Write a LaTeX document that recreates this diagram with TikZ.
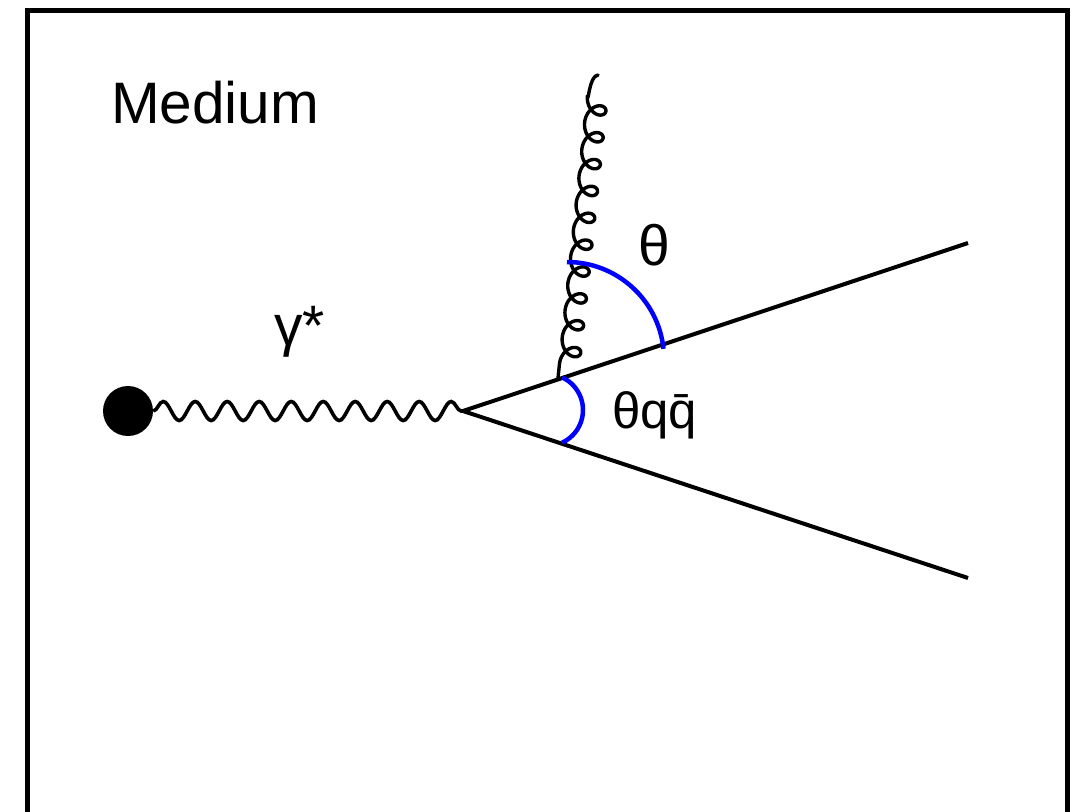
\documentclass[tikz,border=0pt]{standalone}
\usepackage{fontspec}
\setmainfont{Liberation Sans}
\usetikzlibrary{decorations.pathmorphing}
\tikzset{
  frameline/.style={line width=5pt, black},
  quark/.style={line width=4pt, black},
  photon/.style={line width=3.6pt, black, decorate, decoration={snake, segment length=32pt, amplitude=9.5pt}},
  gluonline/.style={line width=3.4pt, black, line join=round, line cap=round},
  anglearc/.style={line width=4.5pt, blue},
  lbl/.style={inner sep=0pt, anchor=base west, font=\fontsize{57}{60}\selectfont},
}
\begin{document}
\begin{tikzpicture}[x=1pt, y=-1pt]
\useasboundingbox (0,0) rectangle (1075,811);
% frame
\coordinate (fbl) at (27,815);
\coordinate (ftl) at (27,10.5);
\coordinate (ftr) at (1067,10.5);
\coordinate (fbr) at (1067,815);
\draw[frameline] (fbl) -- (ftl) -- (ftr) -- (fbr);
% vertices
\node[circle, fill=black, inner sep=0pt, minimum size=50pt] (src) at (128,411) {};
\coordinate (v) at (463,411);
\coordinate (q1) at (968,243);
\coordinate (q2) at (968,578);
\coordinate (g0) at (558,378);
\coordinate (gs) at ({558+14*0.1036},{378-14*0.9946});
\coordinate (g2) at (598,75);
% lines
\draw[photon] (src.east) -- (v);
\draw[quark] (v) -- (q1);
\draw[quark] (v) -- (q2);
% gluon: chain of loops on the right of a back line
\draw[gluonline] (g0) -- (gs)
  -- plot[domain=0:10, samples=721, variable=\p]
    ({558 + (14 + 27*\p + 10.5*sin(360*\p))*0.1036 + 10*(1-cos(360*\p))*0.9946},
     {378 - (14 + 27*\p + 10.5*sin(360*\p))*0.9946 + 10*(1-cos(360*\p))*0.1036})
  to[out=-84, in=185] (g2);
% angle arcs
\coordinate (a1) at (567,262);
\coordinate (a2) at (562.2,377.4);
\draw[anglearc] (a1) arc[start angle=-90, end angle=-6, radius=97];
\draw[anglearc] (a2) arc[start angle=-65, end angle=65, radius=36];
% labels
\node[lbl, font=\fontsize{58.5}{62}\selectfont] (medium) at (111,123) {Medium};
\node[lbl] (gam) at (274,345) {γ*};
\node[lbl] (th) at (638,265) {θ};
\node[lbl, font=\fontsize{51}{54}\selectfont] (thqq) at (612,428) {θq\={q}};
\end{tikzpicture}
\end{document}
